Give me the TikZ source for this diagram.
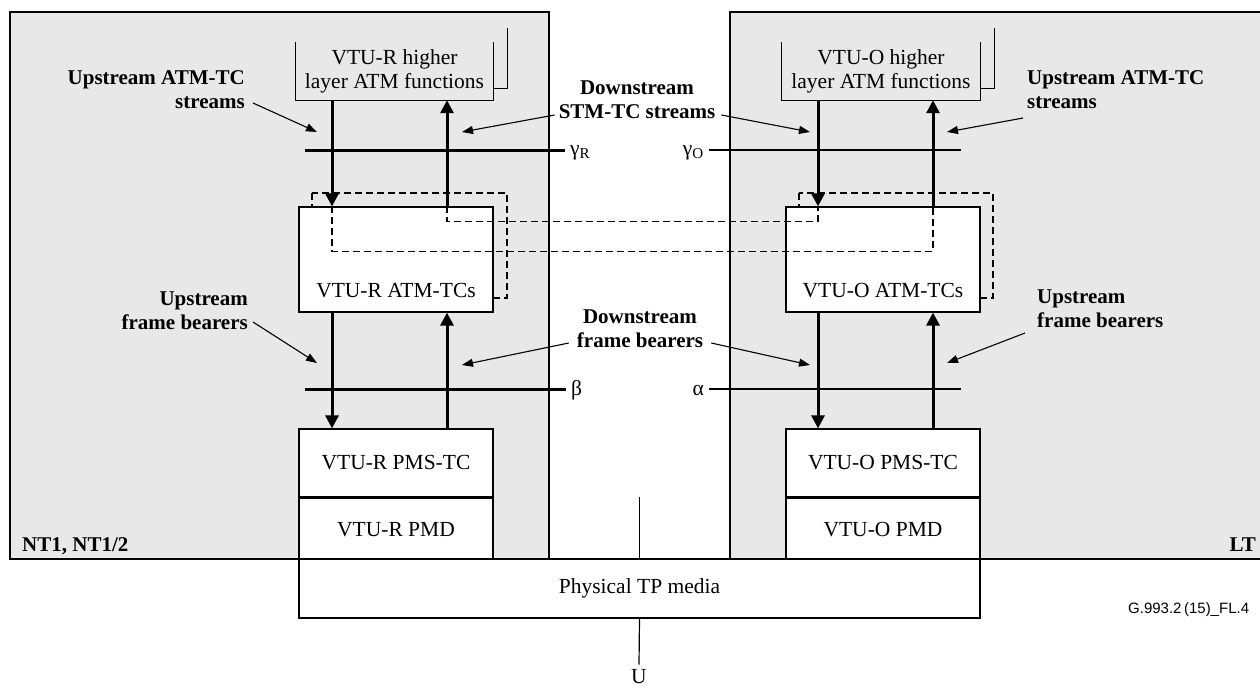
\documentclass[tikz,border=0pt]{standalone}
\usepackage{fontspec}
\setmainfont{Liberation Serif}
\newfontfamily\figfont{Liberation Sans}
\usetikzlibrary{arrows.meta,calc}
\definecolor{panelgray}{gray}{0.91}
\tikzset{
  panel/.style={draw, fill=panelgray, line width=1.2pt},
  layerbox/.style={draw, fill=white, line width=1.2pt, inner sep=0pt},
  refline/.style={line width=1.2pt},
  barline/.style={line width=3pt},
  flow/.style={line width=3pt, -{Triangle[length=13pt,width=13pt]}},
  dashline/.style={line width=1.8pt, dash pattern=on 7pt off 4pt},
  callout/.style={line width=1.1pt, -{Triangle[length=11pt,width=8pt]}},
  lbl/.style={font=\fontsize{21}{24}\selectfont\bfseries, inner sep=0pt},
  reflbl/.style={inner ysep=0pt, inner xsep=5pt},
}
\begin{document}
\begin{tikzpicture}[x=1pt, y=-1pt, font=\fontsize{21.5}{24}\selectfont]
\useasboundingbox (0,0) rectangle (1260,689);
% Panels
\draw[panel] (10,12) rectangle (549,559);
\draw[panel] (730,12) rectangle (1275,559);
\node[lbl, anchor=base west] (nt) at (22,551) {NT1, NT1/2};
\node[lbl, anchor=base east] (lt) at (1256,551) {LT};
% Higher layer functions
\node[align=center, minimum width=198pt, minimum height=58pt, inner sep=0pt] (hlR) at (394.5,71) {VTU-R higher\\layer ATM functions};
\node[align=center, minimum width=198pt, minimum height=58pt, inner sep=0pt] (hlO) at (881,71) {VTU-O higher\\layer ATM functions};
\foreach \side in {R,O} {
  \draw[refline] (hl\side.north west) -- (hl\side.south west) -- (hl\side.south east) -- (hl\side.north east);
  \draw[refline] ([yshift=12pt]hl\side.south east) -- ++(14,0) -- ++(0,-60);
}
% ATM-TC boxes with dashed copies behind
\draw[dashline] (312,193) rectangle (507,298);
\draw[dashline] (799,193) rectangle (993,298);
\node[layerbox, minimum width=194pt, minimum height=105pt] (atmR) at (396,259.5) {};
\node[layerbox, minimum width=194pt, minimum height=105pt] (atmO) at (883,259.5) {};
\node[anchor=base] (atmRtxt) at ([yshift=15pt]atmR.south) {VTU-R ATM-TCs};
\node[anchor=base] (atmOtxt) at ([yshift=15pt]atmO.south) {VTU-O ATM-TCs};
% PMS-TC / PMD
\node[layerbox, minimum width=194pt, minimum height=68pt] (pmsR) at (396,463) {VTU-R PMS-TC};
\node[layerbox, minimum width=194pt, minimum height=62pt, anchor=north] (pmdR) at (pmsR.south) {VTU-R PMD};
\node[layerbox, minimum width=194pt, minimum height=68pt] (pmsO) at (883,463) {VTU-O PMS-TC};
\node[layerbox, minimum width=194pt, minimum height=62pt, anchor=north] (pmdO) at (pmsO.south) {VTU-O PMD};
% Physical medium
\node[layerbox, minimum width=681pt, minimum height=59pt] (tp) at (639.5,588.5) {Physical TP media};
\node[inner sep=0pt] (ulbl) at (639,677) {U};
\draw[refline] (tp.north) -- ++(0,-61);
\draw[refline] (tp.south) -- ([yshift=5pt]ulbl.north);
% Flow columns
\coordinate (dR) at (332,0);
\coordinate (uR) at (447,0);
\coordinate (dO) at (818,0);
\coordinate (uO) at (933,0);
\draw[dashline] (atmR.north -| uR) -- ++(0,15) -| (atmO.north -| dO);
\draw[dashline] (atmR.north -| dR) -- ++(0,45) -| (atmO.north -| uO);
% Reference points
\coordinate (gRs) at (305,150);
\coordinate (gOe) at (961,150);
\coordinate (bs) at (305,389);
\coordinate (ae) at (961,389);
\node[reflbl, anchor=base west] (gR) at (565,155) {γ\textsubscript{R}};
\node[reflbl, anchor=base east] (gO) at (709,155) {γ\textsubscript{O}};
\node[reflbl, anchor=base west] (beta) at (566,395) {β};
\node[reflbl, anchor=base east] (alpha) at (709,395) {α};
\draw[barline] (gRs) -- (gRs -| gR.west);
\draw[refline] (gO.east |- gOe) -- (gOe);
\draw[barline] (bs) -- (bs -| beta.west);
\draw[refline] (alpha.east |- ae) -- (ae);
\foreach \side in {R,O} {
  \draw[flow] (hl\side.south -| d\side) -- (atm\side.north -| d\side);
  \draw[flow] (atm\side.north -| u\side) -- (hl\side.south -| u\side);
  \draw[flow] (atm\side.south -| d\side) -- (pms\side.north -| d\side);
  \draw[flow] (pms\side.north -| u\side) -- (atm\side.south -| u\side);
}
% Stream labels
\node[lbl, align=right, anchor=east] (uaR) at (245,90) {Upstream ATM-TC\\streams};
\node[lbl, align=center] (dsS) at (637,100) {Downstream\\STM-TC streams};
\node[lbl, align=left, anchor=west] (uaO) at (1027,90) {Upstream ATM-TC\\streams};
\node[lbl, align=right, anchor=east] (ufR) at (248,311) {Upstream\\frame bearers};
\node[lbl, align=center] (dfB) at (640,329) {Downstream\\frame bearers};
\node[lbl, align=left, anchor=west] (ufO) at (1037,309) {Upstream\\frame bearers};
\coordinate (t1) at (317,132);
\coordinate (t2) at (462,132);
\coordinate (t3) at (810,132);
\coordinate (t4) at (947,132);
\coordinate (t5) at (317,363);
\coordinate (t6) at (462,365);
\coordinate (t7) at (810,365);
\coordinate (t8) at (947,363);
\draw[callout] ([xshift=8pt,yshift=-13pt]uaR.east) -- (t1);
\draw[callout] ([xshift=-4pt,yshift=-15pt]dsS.west) -- (t2);
\draw[callout] ([xshift=6pt,yshift=-15pt]dsS.east) -- (t3);
\draw[callout] ([xshift=-4pt,yshift=-28pt]uaO.west) -- (t4);
\draw[callout] ([xshift=5pt,yshift=-11pt]ufR.east) -- (t5);
\draw[callout] ([xshift=-8pt,yshift=-14pt]dfB.west) -- (t6);
\draw[callout] ([xshift=8pt,yshift=-14pt]dfB.east) -- (t7);
\draw[callout] ([xshift=-12pt,yshift=-24pt]ufO.west) -- (t8);
% Figure id
\node[font=\figfont\fontsize{15}{18}\selectfont, anchor=west, inner sep=0pt] (figid) at (1128,610) {G.993.2\,(15)\_FL.4};
\end{tikzpicture}
\end{document}
